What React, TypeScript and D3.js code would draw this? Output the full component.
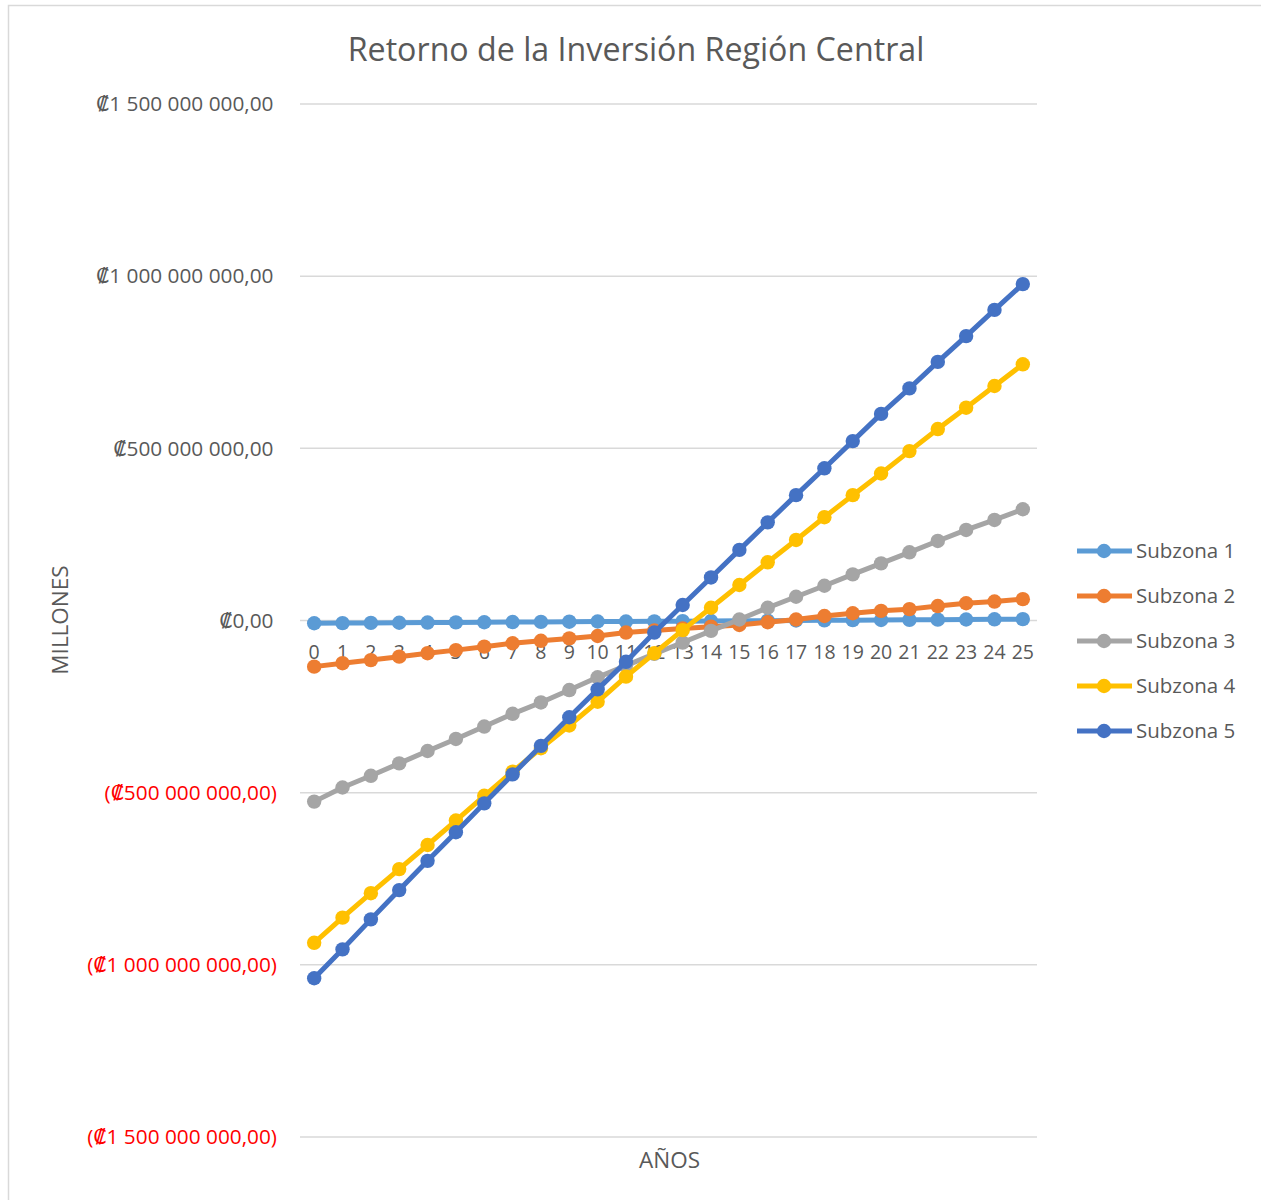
import React from "react";
import * as d3 from "d3";

const years = d3.range(0, 26).map(String);
const yTicks = [-1500000000, -1000000000, -500000000, 0, 500000000, 1000000000, 1500000000];

// values in millions of colones
const subzona1 = [-8, -7.5, -7, -6.5, -6, -5.5, -5, -4.5, -4, -3.5, -3, -3, -2.5, -2, -1.5, -1, -0.5, 0, 0.5, 1, 1.5, 2, 2.5, 3, 3.5, 4];
const subzona2 = [-134, -124, -115, -105, -95, -86, -76, -66, -59, -52, -45, -35, -29, -23, -18, -13, -5, 3, 13, 21, 28, 33, 42, 50, 55, 62];
const subzona3 = [-526, -485, -451, -415, -379, -344, -308, -271, -238, -202, -165, -131, -97, -64, -30, 3, 37, 69, 101, 134, 166, 198, 231, 263, 292, 323];
const subzona4 = [-936, -863, -792, -722, -652, -581, -509, -439, -371, -305, -236, -163, -95, -28, 37, 103, 169, 234, 300, 364, 427, 492, 556, 618, 681, 744];
const subzona5 = [-1039, -955, -868, -783, -698, -615, -531, -447, -364, -281, -200, -120, -35, 45, 125, 205, 285, 364, 442, 521, 600, 674, 751, 826, 902, 977];

const seriesNames = ["Subzona 1", "Subzona 2", "Subzona 3", "Subzona 4", "Subzona 5"];
const seriesValues = [subzona1, subzona2, subzona3, subzona4, subzona5];
const seriesColors = ["#5B9BD5", "#ED7D31", "#A5A5A5", "#FFC000", "#4472C4"];

const FONT = "'Open Sans', 'DejaVu Sans', sans-serif";

function fmtTick(v: number): string {
  const abs = Math.abs(v);
  const intPart = Math.floor(abs)
    .toString()
    .replace(/\B(?=(\d{3})+(?!\d))/g, " ");
  const s = "₡" + intPart + ",00";
  return v < 0 ? "(" + s + ")" : s;
}

export default function App() {
  const W = 1261;
  const H = 1200;
  const plotLeft = 300;
  const plotRight = 1037;

  const x = d3.scaleBand<string>().domain(years).range([plotLeft, plotRight]);
  const xc = (d: string) => (x(d) as number) + x.bandwidth() / 2;
  const y = d3.scaleLinear().domain([-1500000000, 1500000000]).range([1137, 104]);

  const line = d3
    .line<number>()
    .x((_, i) => xc(years[i]))
    .y((v) => y(v * 1e6));

  return (
    <svg
      width={W}
      height={H}
      style={{ position: "absolute", left: 0, top: 0, background: "#fff" }}
      fontFamily={FONT}
    >
      <rect x={8.5} y={5.5} width={W} height={H} fill="#fff" stroke="#d9d9d9" strokeWidth={1.5} />
      <text x={636} y={61} textAnchor="middle" fontSize={32.2} fill="#595959">
        Retorno de la Inversión Región Central
      </text>

      {yTicks.map((t) => (
        <g key={t}>
          <line x1={plotLeft} x2={plotRight} y1={y(t)} y2={y(t)} stroke="#d9d9d9" strokeWidth={1.5} />
          <text
            x={t < 0 ? 277 : 273.5}
            y={y(t)}
            dy="0.35em"
            textAnchor="end"
            fontSize={20.8}
            fill={t < 0 ? "#FF0000" : "#595959"}
          >
            {fmtTick(t)}
          </text>
        </g>
      ))}

      {years.map((d) => (
        <text key={d} x={xc(d)} y={y(0) + 38.5} textAnchor="middle" fontSize={19.5} fill="#595959">
          {d}
        </text>
      ))}

      <text
        transform={`translate(68,620) rotate(-90)`}
        textAnchor="middle"
        fontSize={22.5}
        fill="#595959"
      >
        MILLONES
      </text>
      <text x={669.5} y={1168} textAnchor="middle" fontSize={22.5} fill="#595959">
        AÑOS
      </text>

      {seriesValues.map((vals, si) => (
        <g key={seriesNames[si]}>
          <path d={line(vals) || ""} fill="none" stroke={seriesColors[si]} strokeWidth={5} strokeLinejoin="round" />
          {vals.map((v, i) => (
            <circle key={i} cx={xc(years[i])} cy={y(v * 1e6)} r={7.2} fill={seriesColors[si]} />
          ))}
        </g>
      ))}

      {seriesNames.map((n, si) => {
        const ly = 551 + si * 45;
        return (
          <g key={n}>
            <line x1={1077} x2={1132} y1={ly} y2={ly} stroke={seriesColors[si]} strokeWidth={5} />
            <circle cx={1104} cy={ly} r={7.2} fill={seriesColors[si]} />
            <text x={1136} y={ly} dy="0.35em" fontSize={20.5} fill="#595959">
              {n}
            </text>
          </g>
        );
      })}
    </svg>
  );
}
